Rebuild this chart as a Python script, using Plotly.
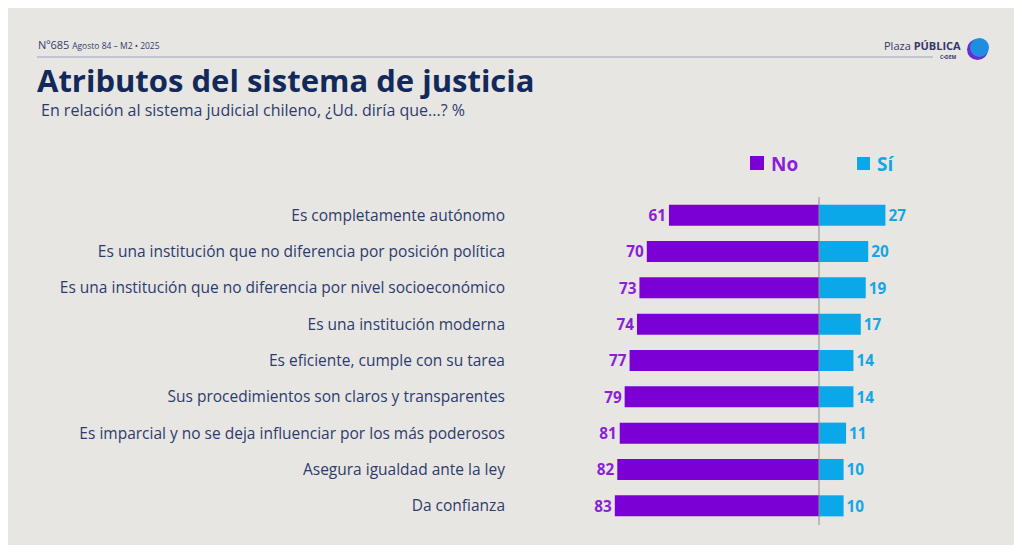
import plotly.graph_objects as go

# ---- data ----
attributes = [
    "Es completamente autónomo",
    "Es una institución que no diferencia por posición política",
    "Es una institución que no diferencia por nivel socioeconómico",
    "Es una institución moderna",
    "Es eficiente, cumple con su tarea",
    "Sus procedimientos son claros y transparentes",
    "Es imparcial y no se deja influenciar por los más poderosos",
    "Asegura igualdad ante la ley",
    "Da confianza",
]
no_values = [61, 70, 73, 74, 77, 79, 81, 82, 83]
si_values = [27, 20, 19, 17, 14, 14, 11, 10, 10]

# ---- palette ----
BG = "#E8E6E3"
NAVY = "#12295A"
LABEL = "#2C3B6E"
PURPLE = "#7A00D6"
PURPLE_TXT = "#8A1FD8"
BLUE = "#0AA8E9"
BLUE_TXT = "#14A6E6"
FONT = "Open Sans"

# page has an 8px body margin, so the figure is the window minus 16px
OFF = 8
W, H = 1022 - 2 * OFF, 553 - 2 * OFF


def fx(x):
    return (x - OFF) / W


def fy(y):
    return 1 - (y - OFF) / H


# x axis: zero at ref px 819, ~2.46 px per point
px_per = 2.46
dom_l, dom_r = 562, 950
x_min = -(819 - dom_l) / px_per
x_max = (dom_r - 819) / px_per

fig = go.Figure()

fig.add_trace(go.Bar(
    y=attributes, x=[-v for v in no_values], orientation="h",
    name="No", marker=dict(color=PURPLE, line=dict(width=0)),
    text=[f"<b>{v}</b>" for v in no_values], textposition="outside",
    textfont=dict(color=PURPLE_TXT, size=16, family=FONT),
    cliponaxis=False, hoverinfo="skip",
))
fig.add_trace(go.Bar(
    y=attributes, x=si_values, orientation="h",
    name="Sí", marker=dict(color=BLUE, line=dict(width=0)),
    text=[f"<b>{v}</b>" for v in si_values], textposition="outside",
    textfont=dict(color=BLUE_TXT, size=16, family=FONT),
    cliponaxis=False, hoverinfo="skip",
))

shapes = [
    # header rule
    dict(type="line", xref="paper", yref="paper", x0=fx(37), x1=fx(933),
         y0=fy(57), y1=fy(57), line=dict(color="#B9B7CE", width=1.5)),
    # centre line
    dict(type="line", xref="x", yref="paper", x0=0, x1=0,
         y0=fy(197), y1=fy(525), line=dict(color="#8E8E8E", width=1)),
    # legend squares
    dict(type="rect", xref="paper", yref="paper", x0=fx(750), x1=fx(764),
         y0=fy(170), y1=fy(156), fillcolor=PURPLE, line=dict(width=0)),
    dict(type="rect", xref="paper", yref="paper", x0=fx(857), x1=fx(870),
         y0=fy(170), y1=fy(157), fillcolor=BLUE, line=dict(width=0)),
    # logo mark
    dict(type="circle", xref="paper", yref="paper",
         x0=fx(967), x1=fx(988), y0=fy(60), y1=fy(39),
         fillcolor="#6A2BD0", line=dict(width=0)),
    dict(type="circle", xref="paper", yref="paper",
         x0=fx(970), x1=fx(989), y0=fy(57), y1=fy(38),
         fillcolor="#1E8FE0", line=dict(width=0)),
]

annotations = [
    dict(text="Nº685 <span style='font-size:8.5px'>Agosto 84 – M2 • 2025</span>",
         x=fx(36), y=fy(45), xref="paper", yref="paper", xanchor="left",
         yanchor="middle", showarrow=False, font=dict(size=11, color="#33406A", family=FONT)),
    dict(text="<b>Atributos del sistema de justicia</b>",
         x=fx(35), y=fy(80), xref="paper", yref="paper", xanchor="left",
         yanchor="middle", showarrow=False,
         font=dict(size=31, color=NAVY, family=FONT, weight=800)),
    dict(text="En relación al sistema judicial chileno, ¿Ud. diría que...? %",
         x=fx(39), y=fy(110), xref="paper", yref="paper", xanchor="left",
         yanchor="middle", showarrow=False, font=dict(size=16, color=LABEL, family=FONT)),
    dict(text="<b>No</b>", x=fx(769), y=fy(164), xref="paper", yref="paper",
         xanchor="left", yanchor="middle", showarrow=False,
         font=dict(size=19, color=PURPLE_TXT, family=FONT)),
    dict(text="<b>Sí</b>", x=fx(875), y=fy(164), xref="paper", yref="paper",
         xanchor="left", yanchor="middle", showarrow=False,
         font=dict(size=19, color=BLUE_TXT, family=FONT)),
    dict(text="Plaza <b>PÚBLICA</b>",
         x=fx(963), y=fy(45.5), xref="paper", yref="paper", xanchor="right",
         yanchor="middle", showarrow=False, font=dict(size=11, color="#34386A", family=FONT)),
    dict(text="<b>C•DEM</b>",
         x=fx(959), y=fy(57), xref="paper", yref="paper", xanchor="right",
         yanchor="middle", showarrow=False, font=dict(size=5, color="#34386A", family=FONT)),
]

fig.update_layout(
    width=W, height=H,
    paper_bgcolor=BG, plot_bgcolor=BG,
    margin=dict(l=0, r=0, t=0, b=0),
    barmode="relative", bargap=0.42,
    font=dict(family=FONT),
    showlegend=False,
    xaxis=dict(domain=[fx(dom_l), fx(dom_r)], range=[x_min, x_max],
               visible=False, fixedrange=True),
    yaxis=dict(domain=[fy(524), fy(197)], autorange="reversed",
               showgrid=False, zeroline=False, showline=False, ticks="",
               ticklabelstandoff=56,
               tickfont=dict(size=15.5, color=LABEL, family=FONT)),
    shapes=shapes, annotations=annotations,
)

fig.write_html("out.html")
